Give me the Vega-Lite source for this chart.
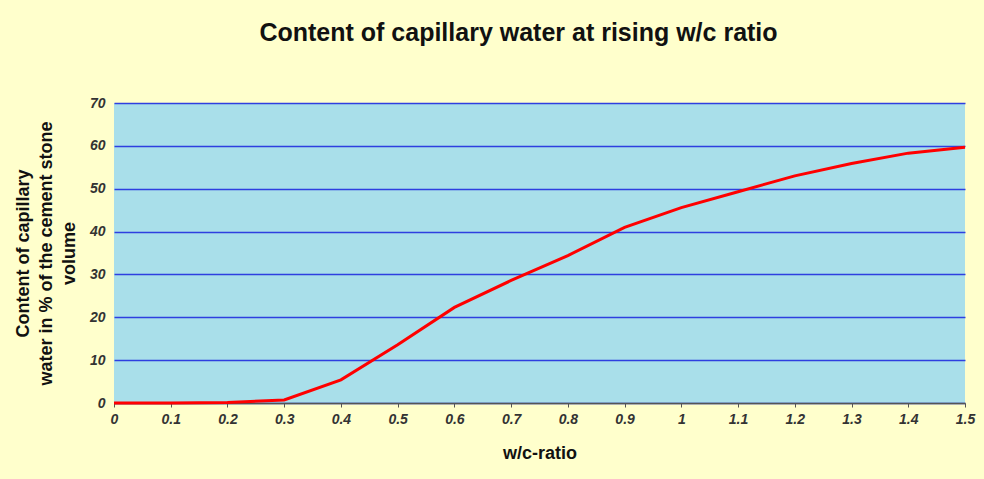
{
  "$schema": "https://vega.github.io/schema/vega-lite/v6.json",
  "autosize": {"type": "none"},
  "width": 851,
  "height": 300,
  "padding": {"left": 114, "top": 103, "right": 19, "bottom": 76},
  "background": "#FFFFCC",
  "title": {
    "text": "Content of capillary water at rising w/c ratio",
    "font": "Liberation Sans",
    "fontSize": 25,
    "fontWeight": "bold",
    "color": "#111111",
    "anchor": "middle",
    "dx": -21,
    "offset": 50
  },
  "config": {
    "view": {"fill": "#A9DFEA", "stroke": null}
  },
  "data": {
    "values": [
      {"wc": 0.0, "water": 0.0},
      {"wc": 0.1, "water": 0.0},
      {"wc": 0.2, "water": 0.1},
      {"wc": 0.3, "water": 0.7},
      {"wc": 0.4, "water": 5.4},
      {"wc": 0.5, "water": 13.6},
      {"wc": 0.6, "water": 22.3},
      {"wc": 0.7, "water": 28.6},
      {"wc": 0.8, "water": 34.4},
      {"wc": 0.9, "water": 41.0},
      {"wc": 1.0, "water": 45.6},
      {"wc": 1.1, "water": 49.3},
      {"wc": 1.2, "water": 53.0},
      {"wc": 1.3, "water": 55.9},
      {"wc": 1.4, "water": 58.3},
      {"wc": 1.5, "water": 59.7}
    ]
  },
  "mark": {"type": "line", "color": "#FF0000", "strokeWidth": 3},
  "encoding": {
    "x": {
      "field": "wc",
      "type": "quantitative",
      "scale": {"domain": [0, 1.5], "nice": false, "zero": true},
      "axis": {
        "values": [0, 0.1, 0.2, 0.3, 0.4, 0.5, 0.6, 0.7, 0.8, 0.9, 1, 1.1, 1.2, 1.3, 1.4, 1.5],
        "format": "~g",
        "title": "w/c-ratio",
        "titleFont": "Liberation Sans",
        "titleFontSize": 18,
        "titleFontWeight": "bold",
        "titleColor": "#111111",
        "titlePadding": 18,
        "labelFont": "Liberation Sans",
        "labelFontSize": 14,
        "labelFontWeight": "bold",
        "labelFontStyle": "italic",
        "labelColor": "#333333",
        "labelPadding": 5,
        "labelFlush": false,
        "domainColor": "#555555",
        "domainWidth": 1.5,
        "tickColor": "#555555",
        "tickSize": 4,
        "grid": false
      }
    },
    "y": {
      "field": "water",
      "type": "quantitative",
      "scale": {"domain": [0, 70], "nice": false},
      "axis": {
        "values": [0, 10, 20, 30, 40, 50, 60, 70],
        "title": ["Content of capillary", "water in % of the cement stone", "volume"],
        "titleFont": "Liberation Sans",
        "titleFontSize": 18,
        "titleFontWeight": "bold",
        "titleColor": "#111111",
        "titleLineHeight": 23,
        "titlePadding": 11,
        "labelFont": "Liberation Sans",
        "labelFontSize": 14,
        "labelFontWeight": "bold",
        "labelFontStyle": "italic",
        "labelColor": "#333333",
        "labelPadding": 9,
        "domain": false,
        "ticks": false,
        "grid": true,
        "gridColor": "#2E3FE0",
        "gridWidth": 1.5,
        "gridOpacity": 1
      }
    }
  }
}
